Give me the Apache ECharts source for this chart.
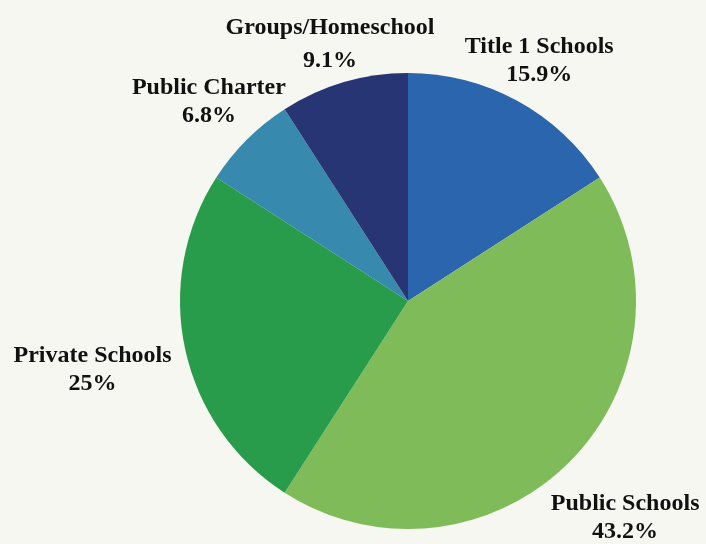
<!DOCTYPE html>
<html>
<head>
<meta charset="utf-8">
<script src="https://cdn.jsdelivr.net/npm/echarts@6/dist/echarts.min.js"></script>
<style>
html,body{margin:0;padding:0;background:#f7f7f2;}
#c{width:706px;height:544px;}
</style>
</head>
<body>
<div id="c"></div>
<script>
const categories = ['Title 1 Schools', 'Public Schools', 'Private Schools', 'Public Charter', 'Groups/Homeschool'];
const values = [15.9, 43.2, 25, 6.8, 9.1];
const colors = ['#2a65ad', '#80bb5a', '#289c4a', '#3789ae', '#283574'];

const CENTER = [408, 301];
const RADIUS = 228;
const GAP = 14;
const nudge = { 'Public Schools': [18, 18], 'Groups/Homeschool': [0, 8] };
const lineHeights = { 'Groups/Homeschool': 33 };

const total = values.reduce((a, b) => a + b, 0);

const chart = echarts.init(document.getElementById('c'), null, { renderer: 'canvas' });

chart.setOption({
  backgroundColor: '#f7f7f2',
  animation: false,
  series: [{
    type: 'pie',
    center: CENTER,
    radius: RADIUS,
    startAngle: 90,
    clockwise: true,
    silent: true,
    data: categories.map((n, i) => ({
      name: n,
      value: values[i],
      itemStyle: { color: colors[i] },
      label: { lineHeight: lineHeights[n] || 28 }
    })),
    label: {
      show: true,
      position: 'outside',
      alignTo: 'none',
      overflow: 'none',
      formatter: p => p.name + '\n' + p.value + '%',
      fontFamily: '"Liberation Serif", "Times New Roman", serif',
      fontWeight: 'bold',
      fontSize: 24,
      color: '#111',
      lineHeight: 28
    },
    labelLine: { show: false },
    labelLayout: function (p) {
      const i = p.dataIndex;
      let before = 0;
      for (let k = 0; k < i; k++) before += values[k];
      const mid = (before + values[i] / 2) / total * Math.PI * 2;
      const dx = Math.sin(mid), dy = -Math.cos(mid);
      const w = p.labelRect.width, h = p.labelRect.height;
      const ext = Math.min(
        Math.abs(dx) > 1e-6 ? (w / 2) / Math.abs(dx) : Infinity,
        Math.abs(dy) > 1e-6 ? (h / 2) / Math.abs(dy) : Infinity
      );
      const r = RADIUS + GAP + ext;
      const nd = nudge[categories[i]] || [0, 0];
      return {
        x: CENTER[0] + dx * r + nd[0],
        y: CENTER[1] + dy * r + nd[1],
        align: 'center',
        verticalAlign: 'middle'
      };
    }
  }]
});
</script>
</body>
</html>
